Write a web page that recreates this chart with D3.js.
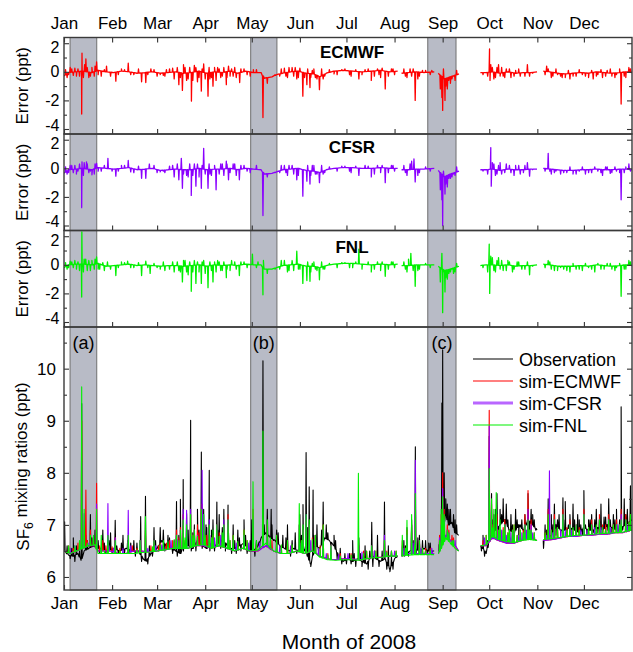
<!DOCTYPE html>
<html>
<head>
<meta charset="utf-8">
<script src="https://cdn.jsdelivr.net/npm/d3@7"></script>
<style>
  body { margin: 0; background: #fff; }
  svg { display: block; font-family: "Liberation Sans", Arial, sans-serif; }
</style>
</head>
<body>
<div id="chart"></div>
<script>
// ---- data (day of year 2008, value) ----
// continuous stretches of data, gaps in between
const segments = [[0, 215], [217.5, 238.6], [241.2, 254.5], [268.3, 304.8], [308.8, 366]];
// shaded episodes
const episodes = [["(a)", 3.9, 21.1], ["(b)", 120.3, 137.2], ["(c)", 234.4, 252.6]];

// error panels: slow baseline + short spikes (ppt)
const ecmwfErrBase = [[0,-0.3],[3,-0.05],[8,0],[12,0.05],[18,-0.05],[22,0.1],[27,0],[32,-0.05],[37,0.05],[42,0],[47,-0.1],[52,-0.05],[57,0],[62,-0.1],[67,-0.05],[72,0],[77,-0.1],[82,-0.05],[87,0.05],[92,-0.1],[97,0],[102,-0.05],[107,0.05],[112,-0.1],[117,0.05],[122,-0.05],[127,-0.05],[129,-0.45],[134,-0.35],[137,-0.2],[141,-0.1],[146,0],[151,0.05],[156,-0.1],[161,-0.15],[165,-0.35],[169,-0.1],[174,0.05],[180,0.1],[186,0.05],[192,0],[198,0.05],[204,0.1],[210,0],[215,0.05],[217.5,-0.1],[222,-0.05],[227,0],[232,-0.05],[238.6,0],[241.2,-0.1],[245,-0.5],[249,-0.35],[254.5,-0.15],[268.3,-0.05],[272,-0.05],[276,0],[281,-0.1],[286,0],[291,-0.1],[296,-0.05],[301,-0.05],[304.8,0],[308.8,0.05],[313,0],[318,-0.1],[323,-0.15],[328,-0.1],[333,-0.05],[338,-0.1],[343,0],[348,-0.05],[353,-0.1],[358,-0.05],[362,0],[366,-0.05]];
const ecmwfErrSpikes = [[2,-0.4],[5,0.2],[8,-0.3],[11.4,-2.95],[11.6,1.3],[14.1,0.9],[16,-0.4],[18,0.3],[21,0.7],[24,-0.3],[27.4,0.4],[30,-0.3],[33.4,-0.65],[37,0.2],[41.4,0.6],[45,-0.2],[50,-0.7],[52.7,-0.75],[56,0.2],[60,-0.3],[64,-0.25],[68,0.2],[71,-0.5],[74,-0.9],[76.3,-1.3],[77,0.5],[79,-0.6],[82.1,-2.05],[84,0.45],[86,-0.7],[88.5,-1.35],[90,0.55],[92.8,-1.7],[94,-0.5],[96,-1.0],[99,0.3],[101,-0.4],[104.6,-0.9],[106,0.4],[109,-0.3],[113.2,-0.75],[116,0.2],[120,-0.3],[124,0.15],[128.2,-3.2],[131,-0.8],[136,-0.2],[140,0.2],[143,-0.3],[147,0.3],[150,-0.5],[152,0.25],[153.9,-1.7],[155,-0.4],[156.5,-0.9],[158.5,-1.1],[160,0.1],[162,-0.4],[164.6,-1.25],[167,-0.5],[171,0.15],[176,-0.2],[181,0.2],[185,-0.3],[190,-0.5],[194,0.15],[198,-0.6],[202,0.2],[204,-0.4],[207,-1.2],[211,0.2],[213,-0.2],[220,-0.3],[223,0.2],[226.3,-2.0],[229,-0.3],[233,0.1],[236,-0.2],[242.5,-1.2],[243.5,-1.8],[244,-2.7],[244.5,0.2],[245.5,-2.0],[247,-1.2],[249,-0.8],[251,-0.3],[253,0.1],[270,-0.2],[274.2,1.6],[274.5,-0.6],[276,0.3],[278,-0.4],[280,0.5],[283,-0.3],[285,0.2],[288,-0.4],[291,0.1],[294,-0.3],[298.6,0.5],[300,-0.3],[302,-0.1],[311,0.4],[315,-0.3],[318,-0.2],[321,-0.4],[326,-0.5],[330,-0.3],[334,-0.2],[338,-0.4],[341,-0.5],[344,-0.2],[347,-0.4],[350,0.1],[353,-0.3],[356,-0.2],[359,-2.25],[361,-0.3],[364,0.3]];
// small wiggles on top of the baseline
const ecmwfErrNoise = [[1,0.15],[3,-0.2],[4,0.3],[6,-0.25],[7,0.25],[9,0.2],[10,-0.3],[12.5,-0.4],[13.3,0.5],[15,0.3],[17,-0.3],[19.5,-0.3],[20,0.4],[22,-0.2],[26,0.15],[35,-0.2],[39,0.15],[43,-0.2],[48,0.2],[54,-0.2],[58,0.15],[62,-0.2],[65,-0.3],[66,0.15],[70,0.25],[73,0.3],[75,-0.4],[78,0.3],[80,-0.5],[81,0.3],[83,-0.6],[85,0.3],[87,-0.4],[89,0.2],[91,-0.5],[93.5,0.3],[95,-0.4],[97,0.3],[98,-0.6],[100,0.2],[102,-0.3],[103,0.3],[105,-0.4],[107,-0.3],[108,0.2],[110,0.3],[111,-0.4],[114,0.2],[118,-0.2],[122,0.15],[139,-0.3],[142,0.25],[144,-0.4],[145,0.3],[148,-0.3],[149,0.3],[151,-0.4],[157,0.2],[159,-0.4],[161,0.2],[163,-0.5],[166,0.2],[168,-0.3],[174,-0.15],[179,0.15],[184,-0.2],[188,0.15],[192,-0.2],[196,0.2],[200,-0.3],[203,-0.2],[205,0.25],[209,-0.3],[212,0.2],[219,0.2],[221,-0.4],[224,-0.3],[225,0.2],[228,-0.5],[231,0.1],[237,0.1],[246,-1.0],[248,-0.6],[250,-0.5],[252,-0.6],[273,-0.3],[275,0.5],[277,-0.5],[279,0.3],[281,-0.3],[282,0.3],[284,-0.4],[287,0.2],[290,-0.3],[293,0.2],[297,-0.3],[310,-0.2],[312,0.2],[314,-0.4],[317,0.2],[320,-0.3],[323,-0.4],[325,0.1],[328,-0.3],[332,0.15],[336,-0.3],[340,0.1],[343,-0.3],[346,0.15],[349,-0.3],[352,0.2],[355,-0.4],[358,0.2],[362,-0.4],[365,0.2]];

const cfsrErrBase = [[0,-0.35],[3,-0.1],[8,-0.05],[12,0],[18,-0.1],[22,0.05],[27,0],[32,-0.05],[37,0],[42,0.05],[47,-0.1],[52,-0.05],[57,0],[62,-0.15],[67,-0.1],[72,-0.05],[77,-0.1],[82,-0.1],[87,0],[92,-0.1],[97,-0.05],[102,-0.05],[107,0],[112,-0.1],[117,0],[122,-0.05],[127,-0.1],[129,-0.4],[134,-0.35],[137,-0.25],[141,-0.1],[146,-0.05],[151,0],[156,-0.15],[161,-0.2],[165,-0.3],[169,-0.1],[174,0],[180,0.05],[186,0.05],[192,0],[198,0],[204,0.05],[210,0],[215,0],[217.5,-0.1],[222,-0.1],[227,-0.05],[232,-0.05],[238.6,0],[241.2,-0.15],[245,-0.6],[249,-0.4],[254.5,-0.2],[268.3,-0.1],[272,-0.1],[276,-0.05],[281,-0.15],[286,-0.05],[291,-0.1],[296,-0.1],[301,-0.05],[304.8,-0.05],[308.8,0],[313,-0.05],[318,-0.1],[323,-0.15],[328,-0.15],[333,-0.1],[338,-0.1],[343,-0.05],[348,-0.1],[353,-0.1],[358,-0.05],[362,-0.05],[366,-0.1]];
const cfsrErrSpikes = [[2,-0.4],[5,0.2],[8,-0.4],[11.4,-2.75],[11.6,0.45],[13,0.4],[14.5,0.45],[16,-0.3],[18,-0.45],[21,0.35],[24,-0.2],[28.3,0.7],[31,-0.2],[33.4,-0.55],[37,0.2],[41.4,0.55],[45,-0.3],[50,-0.7],[52.7,-0.7],[55,0.3],[60,-0.3],[64,-0.2],[68,0.15],[71,-0.6],[74,-0.8],[75.6,0.7],[76.3,-1.4],[79,-0.5],[82,-1.9],[84,0.3],[85,-1.25],[88.5,-1.4],[90,1.4],[92.8,-1.4],[94,-0.4],[98,-1.5],[101,0.3],[104.6,0.5],[106,-0.8],[109,0.3],[113,-0.8],[116,0.2],[120,-0.3],[124,0.2],[128.2,-3.3],[131,-0.6],[136,-0.3],[140,0.2],[143,-0.3],[147,0.2],[150,-0.8],[153.9,-1.95],[156.5,-0.9],[158.5,-1.1],[160,0.2],[162,-0.4],[164.6,-1.0],[167,-0.4],[171,0.1],[176,-0.2],[181,0.15],[185,-0.3],[190,-0.5],[194,0.2],[198,-0.6],[202,0.2],[204,-0.3],[207,-1.0],[211,0.2],[213,-0.2],[220,-0.3],[224,0.5],[225.5,0.65],[226.3,-0.95],[229,-0.3],[233,0.1],[236,-0.2],[242.5,-1.5],[243.5,-2.2],[244,-4.0],[244.5,-0.2],[245.5,-1.8],[247,-1.3],[249,-0.7],[251,-0.4],[253,0.1],[270,-0.2],[275,1.45],[275.3,-1.25],[277,0.3],[279,-0.4],[281,0.4],[284,-0.3],[287,0.2],[290,-0.5],[293,0.2],[296,-0.3],[298.6,0.4],[300,-0.55],[302,-0.1],[312,1.05],[313,-0.2],[316,-0.3],[320,-0.4],[324,-0.3],[328,-0.4],[332,-0.2],[336,-0.4],[340,-0.3],[344,-0.2],[347,-0.5],[350,0.1],[353,-0.3],[356,-0.2],[359,-2.2],[361,-0.3],[364,0.3]];
const cfsrErrNoise = [[1,0.1],[3,-0.3],[4,0.2],[6,-0.3],[7,0.2],[9,-0.2],[10,0.3],[12.5,-0.5],[15,0.3],[17,-0.2],[19.5,-0.4],[20,0.3],[22,-0.2],[26,0.2],[35,-0.2],[39,0.2],[43,-0.25],[48,0.15],[58,0.2],[62,-0.25],[65,-0.3],[70,0.2],[73,0.3],[77,-0.4],[80,-0.6],[81,0.3],[83,-0.5],[86,0.3],[87,-0.6],[89,0.2],[91,-0.4],[93.5,0.3],[95,-0.5],[97,0.2],[100,-0.4],[102,0.3],[103,-0.5],[105,0.3],[107,-0.3],[110,0.3],[111,-0.5],[114,0.2],[118,-0.2],[139,-0.3],[142,0.2],[144,-0.5],[145,0.2],[148,-0.4],[151,-0.5],[157,0.2],[159,-0.5],[161,0.2],[163,-0.4],[166,0.2],[168,-0.3],[179,0.15],[184,-0.2],[188,0.15],[196,0.15],[200,-0.4],[205,0.2],[209,-0.3],[212,0.2],[219,0.2],[221,-0.5],[223,0.3],[228,-0.5],[246,-1.1],[248,-0.7],[250,-0.6],[252,-0.5],[273,-0.4],[276,0.4],[278,-0.5],[280,0.2],[282,-0.4],[285,0.3],[288,-0.3],[291,0.2],[294,-0.4],[297,0.2],[310,-0.2],[314,-0.4],[317,-0.2],[322,-0.3],[326,0.1],[330,-0.4],[334,0.1],[338,-0.3],[342,0.1],[346,-0.3],[349,0.1],[352,-0.35],[355,0.1],[358,-0.3],[362,0.1],[365,-0.2]];

const fnlErrBase = [[0,-0.2],[3,0],[8,0.05],[12,0.05],[18,0],[22,0.1],[27,-0.1],[32,-0.05],[37,0],[42,0.05],[47,-0.05],[52,0],[57,-0.05],[62,-0.1],[67,-0.05],[72,-0.05],[77,-0.1],[82,-0.05],[87,0],[92,-0.1],[97,0],[102,-0.05],[107,0],[112,-0.05],[117,0.05],[122,0],[127,0],[129,-0.3],[134,-0.3],[137,-0.2],[141,-0.05],[146,0],[151,0.05],[156,-0.1],[161,-0.1],[165,-0.2],[169,-0.05],[174,0.05],[180,0.1],[186,0.1],[192,0.05],[198,0],[204,0.05],[210,0],[215,0.05],[217.5,-0.05],[222,-0.05],[227,0],[232,0],[238.6,0],[241.2,-0.1],[245,-0.4],[249,-0.3],[254.5,-0.1],[268.3,-0.05],[272,0],[276,0],[281,-0.05],[286,0],[291,-0.1],[296,-0.05],[301,-0.05],[304.8,0],[308.8,0.05],[313,0],[318,-0.1],[323,-0.1],[328,-0.1],[333,-0.05],[338,-0.1],[343,0],[348,-0.05],[353,-0.1],[358,-0.05],[362,0],[366,-0.05]];
const fnlErrSpikes = [[2,-0.3],[5,0.2],[8,-0.3],[11.4,-2.25],[11.5,2.3],[13,0.4],[15,-0.4],[18,0.3],[21,0.55],[23,-0.3],[26,-0.4],[28,0.2],[30,-0.3],[33.4,-0.75],[37,0.2],[41,0.25],[45,-0.2],[50,-0.75],[52.7,0.25],[55.5,-0.6],[60,-0.2],[64,0.2],[68,-0.3],[71,-0.5],[74,-0.4],[76.3,-1.2],[77,0.3],[79,-0.5],[82,-1.85],[84,0.3],[85,-1.3],[88.5,-1.3],[90,0.3],[92.8,-1.6],[96,-1.2],[99,0.3],[101,-0.4],[104.6,-0.9],[108,0.3],[113,-0.75],[116,0.2],[121.4,0.75],[124,-0.2],[128.2,-2.1],[128.5,0.3],[131,-0.6],[136,-0.3],[140,0.3],[145,-0.4],[150,0.95],[152,-0.3],[153.9,-1.3],[156.5,-1.1],[158.5,-1.15],[160,0.1],[162,-0.3],[164.6,-1.05],[167,-0.3],[171,0.1],[176,-0.2],[181,0.15],[186,-0.2],[190,1.1],[192,-0.3],[198,-0.5],[202,0.2],[204,-0.4],[207,-0.8],[211,0.2],[213,-0.2],[220,-0.3],[223.5,0.8],[225,-0.4],[226.3,-1.5],[229,-0.3],[233,0.1],[236,-0.2],[242.5,-1.2],[243.5,0.8],[244,-3.35],[244.5,-0.5],[245.5,-1.9],[247,-1.0],[249,-0.5],[251,-0.6],[253,0.1],[270,-0.2],[274,1.45],[274.3,-2.0],[276,0.5],[278,-0.5],[280,0.5],[283,-0.4],[286,0.3],[289,-0.5],[292,0.2],[295,-0.3],[298.6,0.2],[300,-0.7],[302,-0.1],[312,0.3],[314,-0.3],[318,-0.4],[322,-0.3],[326,-0.5],[330,-0.3],[334,-0.4],[338,-0.2],[342,-0.5],[346,-0.3],[350,0.1],[353,-0.3],[356,-0.2],[359,-2.2],[361,-0.3],[364,0.3]];
const fnlErrNoise = [[1,0.15],[3,-0.2],[4,0.25],[6,-0.2],[7,0.3],[9,0.2],[10,-0.4],[12.5,-0.5],[14,0.4],[16,0.3],[17,-0.4],[19.5,-0.3],[20,0.4],[22,-0.3],[25,0.15],[35,-0.2],[39,0.15],[43,-0.2],[48,0.15],[54,-0.2],[58,0.1],[62,-0.3],[65,-0.4],[70,0.2],[73,0.2],[75,-0.5],[78,0.3],[80,-0.7],[81,0.2],[83,-0.5],[86,0.2],[87,-0.5],[89,0.2],[91,-0.6],[94,0.2],[95,-0.4],[97,0.2],[98,-0.5],[100,0.2],[102,-0.4],[103,0.2],[105,-0.3],[107,-0.4],[110,0.2],[111,-0.3],[114,0.2],[118,-0.2],[125,0.2],[139,-0.3],[142,0.3],[144,-0.5],[147,0.3],[148,-0.4],[151,-0.3],[157,0.2],[159,-0.5],[161,0.2],[163,-0.4],[166,0.2],[168,-0.3],[179,0.15],[184,-0.2],[188,0.2],[196,0.2],[200,-0.3],[205,0.2],[209,-0.3],[212,0.2],[219,0.2],[221,-0.5],[222,0.4],[228,-0.4],[246,-0.9],[248,-0.6],[250,-0.3],[252,-0.5],[273,-0.5],[275,0.6],[277,-0.4],[279,0.3],[281,-0.3],[282,0.3],[285,-0.4],[287,0.2],[290,-0.3],[293,0.2],[297,-0.3],[310,-0.2],[313,0.2],[316,-0.4],[320,-0.2],[324,-0.4],[328,0.1],[332,-0.3],[336,0.1],[340,-0.3],[344,0.1],[348,-0.3],[352,0.1],[355,-0.4],[358,0.1],[362,-0.3],[365,0.2]];

// mixing ratio panel (ppt)
const obsBase = [[0,6.5],[3,6.42],[6,6.4],[9,6.45],[11,6.32],[13,6.5],[16,6.55],[19,6.6],[21.5,6.55],[24,6.55],[28,6.5],[32,6.55],[36,6.5],[40,6.55],[44,6.5],[48,6.5],[51,6.35],[53,6.3],[56,6.45],[60,6.55],[63,6.7],[66,6.6],[69,6.55],[72,6.5],[75,6.45],[78,6.65],[80,6.6],[83,6.55],[86,6.7],[89,6.6],[92,6.55],[95,6.65],[98,6.6],[101,6.7],[104,6.65],[107,6.55],[110,6.55],[113,6.6],[116,6.65],[119,6.5],[122,6.5],[125,6.6],[127,6.75],[130,6.85],[133,6.75],[136,6.7],[139,6.6],[142,6.55],[145,6.5],[148,6.55],[151,6.5],[154,6.6],[157,6.4],[159,6.25],[162,6.6],[165,6.55],[168,6.75],[171,6.7],[174,6.6],[177,6.4],[180,6.3],[183,6.35],[186,6.3],[189,6.35],[192,6.3],[195,6.25],[198,6.4],[201,6.35],[204,6.3],[207,6.35],[210,6.15],[213,6.35],[215,6.4],[217.5,6.4],[220,6.45],[223,6.5],[226,6.55],[229,6.5],[232,6.55],[235,6.5],[238.5,6.5],[241.3,6.5],[243,6.8],[246,7.2],[248,7.0],[250,7.05],[252,6.85],[254.3,6.8],[268.5,6.6],[270,6.55],[272,6.45],[275,6.8],[278,6.9],[281,7.0],[284,7.1],[287,6.9],[290,6.85],[293,7.0],[296,6.9],[299,7.1],[302,7.0],[304.8,6.9],[308.8,6.7],[311,6.75],[314,6.8],[317,7.0],[320,6.9],[323,6.9],[326,6.95],[329,6.9],[332,6.85],[335,6.95],[338,6.9],[341,6.9],[344,6.95],[347,6.9],[350,7.0],[353,6.95],[356,6.9],[359,6.95],[362,7.0],[366,7.1]];
const obsSpikes = [[0.4,7.06],[6,6.75],[11.4,9.33],[14,6.8],[17,7.2],[20,6.9],[25,6.9],[30,6.85],[33,7.09],[38,6.8],[45,6.7],[49.4,7.16],[52.5,7.55],[58,6.95],[62,6.95],[67,6.8],[72.5,7.45],[75,7.49],[76.8,7.87],[79,7.22],[81.6,9.01],[84,7.0],[86,7.3],[88.5,8.4],[90,7.3],[91.5,7.0],[93.6,8.05],[96,7.1],[98.5,7.44],[100,7.2],[103,7.3],[105.7,7.38],[109,7.0],[112,6.9],[116,7.1],[121,7.1],[128.2,10.15],[131,7.3],[133.5,7.3],[137,6.9],[141,6.8],[144,7.0],[149,6.85],[152,7.2],[154,7.39],[156,8.39],[158,7.73],[160.5,7.67],[163,7.0],[167,7.44],[169,7.0],[174,6.8],[186,6.7],[190,6.75],[194,6.6],[198.3,7.05],[202,6.8],[206.5,7.44],[209,6.6],[215,6.5],[219,6.7],[221,6.95],[224,7.1],[226.4,8.5],[229,6.8],[233,6.7],[236,6.65],[243.5,9.34],[244,10.36],[245,8.0],[247,7.4],[249,7.3],[252,7.1],[270,6.8],[274,8.7],[275.5,7.6],[277,7.2],[279,7.6],[281,7.3],[283,7.5],[285,7.4],[288,7.2],[291,7.3],[294,7.0],[297,7.2],[299,7.6],[301,7.3],[303,7.1],[310,7.0],[312,7.5],[314,7.2],[316,7.4],[318,7.1],[321.5,7.52],[323,7.45],[326,7.2],[328,7.4],[331,7.2],[333,7.0],[335,7.66],[338,7.1],[340,7.2],[343,7.3],[346,7.4],[349,7.15],[351,7.5],[354,7.2],[356,7.3],[359,9.27],[361,7.5],[363,7.3],[365,7.75]];
const obsNoise = [[2,6.6],[4,6.35],[5,6.55],[7,6.3],[8,6.6],[10,6.5],[15,6.7],[18,6.75],[22,6.7],[23,6.45],[26,6.65],[27,6.45],[29,6.7],[31,6.45],[34,6.6],[35,6.45],[37,6.65],[39,6.45],[41,6.7],[42,6.45],[43,6.65],[46,6.4],[47,6.65],[50,6.3],[54,6.25],[55,6.6],[57,6.4],[59,6.7],[61,6.5],[64,6.9],[65,6.5],[68,6.75],[70,6.45],[71,6.7],[73,6.4],[74,6.8],[77,6.5],[80,6.9],[82,6.5],[83,6.85],[85,6.5],[87,6.9],[89,6.55],[92,6.95],[94,6.5],[95,6.9],[97,6.5],[99,6.9],[101,6.55],[102,6.95],[104,6.5],[106,6.85],[108,6.45],[110,6.7],[111,6.45],[113,6.75],[114,6.5],[117,6.8],[118,6.45],[120,6.7],[123,6.4],[124,6.7],[126,6.55],[129,7.0],[132,6.8],[134,7.0],[135,6.7],[138,6.85],[140,6.5],[143,6.75],[146,6.4],[147,6.7],[150,6.45],[153,6.8],[155,6.5],[157,6.95],[159,6.2],[161,6.8],[164,6.5],[166,6.9],[170,6.85],[172,6.6],[175,6.7],[176,6.35],[178,6.55],[179,6.25],[181,6.45],[182,6.25],[184,6.45],[185,6.25],[187,6.45],[188,6.2],[191,6.45],[192,6.2],[193,6.4],[196,6.15],[197,6.5],[199,6.2],[200,6.5],[203,6.2],[205,6.5],[208,6.15],[210,6.1],[211,6.4],[212,6.15],[214,6.45],[219.5,6.4],[220,6.6],[222,6.4],[225,6.7],[227,6.45],[228,6.75],[230,6.45],[231,6.7],[234,6.45],[235,6.65],[237,6.45],[242,6.6],[246,7.5],[248,7.3],[251,7.2],[253,7.0],[269,6.5],[271,6.4],[273,6.7],[276,7.1],[278,7.3],[280,6.8],[282,7.2],[284,6.8],[286,7.1],[287,6.75],[289,7.0],[290,6.7],[292,7.1],[293,6.8],[295,7.1],[296,6.75],[298,7.0],[300,6.9],[302,7.2],[304,6.9],[309,6.55],[311,6.9],[313,6.75],[315,7.0],[317,6.8],[319,7.2],[320,6.8],[322,7.1],[324,6.8],[325,7.0],[327,6.8],[329,7.1],[330,6.8],[332,7.1],[334,6.8],[336,7.0],[337,6.8],[339,7.1],[341,6.85],[342,7.1],[344,6.85],[345,7.1],[347,6.85],[348,7.15],[350,6.9],[352,7.1],[353,6.85],[355,7.1],[357,6.85],[358,7.1],[360,6.9],[362,7.2],[364,6.95]];

const simBase = [[0,6.5],[4,6.45],[8,6.5],[12,6.55],[16,6.6],[20,6.6],[22,6.5],[26,6.5],[30,6.5],[35,6.45],[40,6.45],[45,6.5],[50,6.5],[55,6.48],[60,6.5],[65,6.52],[70,6.55],[75,6.55],[80,6.55],[85,6.6],[90,6.6],[95,6.55],[100,6.6],[105,6.55],[110,6.5],[115,6.55],[120,6.5],[125,6.5],[130,6.6],[135,6.5],[140,6.45],[145,6.45],[150,6.5],[155,6.45],[160,6.5],[165,6.4],[170,6.35],[175,6.33],[180,6.35],[185,6.35],[190,6.33],[195,6.35],[200,6.38],[205,6.38],[210,6.4],[215,6.4],[217.5,6.4],[222,6.45],[227,6.45],[232,6.45],[238.5,6.45],[241.3,6.45],[243,6.6],[246,6.8],[249,6.7],[252,6.6],[254.3,6.5],[268.5,6.6],[272,6.6],[276,6.75],[280,6.7],[285,6.65],[290,6.65],[295,6.7],[300,6.75],[304.8,6.7],[308.8,6.7],[315,6.72],[320,6.75],[325,6.78],[330,6.78],[335,6.8],[340,6.8],[345,6.82],[350,6.82],[355,6.85],[360,6.85],[366,6.9]];
const fnlBase = [[0,6.5],[4,6.45],[8,6.5],[12,6.55],[16,6.6],[20,6.62],[22,6.45],[26,6.45],[30,6.45],[35,6.45],[40,6.45],[45,6.45],[50,6.47],[55,6.48],[60,6.5],[65,6.52],[70,6.55],[75,6.55],[80,6.55],[85,6.6],[90,6.62],[95,6.55],[100,6.6],[105,6.55],[110,6.5],[115,6.55],[120,6.5],[125,6.52],[130,6.65],[135,6.5],[140,6.45],[145,6.45],[150,6.5],[155,6.45],[160,6.5],[165,6.38],[170,6.33],[175,6.32],[180,6.33],[185,6.33],[190,6.32],[195,6.35],[200,6.37],[205,6.38],[210,6.4],[215,6.4],[217.5,6.4],[222,6.42],[227,6.43],[232,6.43],[238.5,6.43],[241.3,6.45],[243,6.55],[246,6.75],[249,6.65],[252,6.55],[254.3,6.5],[268.5,6.6],[272,6.62],[276,6.78],[280,6.72],[285,6.68],[290,6.66],[295,6.7],[300,6.72],[304.8,6.7],[308.8,6.72],[315,6.74],[320,6.76],[325,6.78],[330,6.8],[335,6.8],[340,6.82],[345,6.83],[350,6.84],[355,6.85],[360,6.86],[366,6.9]];
const ecmwfSpikes = [[11.4,9.0],[14.1,7.67],[17,6.9],[21,7.8],[25,6.7],[28.3,6.8],[33,6.75],[41.4,6.8],[49,6.7],[52.5,6.9],[58,6.7],[62,6.65],[68,6.7],[72.5,6.9],[75,6.95],[76.8,7.2],[81.6,7.2],[84,6.9],[86,7.0],[88.5,7.3],[89,7.4],[93.6,7.0],[96,6.8],[98.5,7.0],[103,7.0],[105.7,7.2],[109,6.8],[116,6.9],[121.8,7.3],[128.2,7.1],[131,7.0],[137,6.8],[144,6.7],[151.6,7.0],[154,6.9],[156,7.1],[158,7.0],[162,6.8],[167,7.0],[172,6.6],[190,6.6],[195,6.5],[198.3,6.6],[206.5,6.7],[211,6.5],[218,6.7],[221,6.9],[224,7.0],[226.4,7.6],[229,6.7],[233,6.55],[243,7.2],[244,8.0],[245,7.3],[247,7.0],[250,6.8],[270,6.7],[274,9.2],[275.5,7.4],[277,7.0],[279,7.2],[281,6.9],[284,7.1],[287,6.9],[290,7.0],[294,6.9],[297,7.2],[299,7.66],[301,7.1],[312,7.3],[316,7.2],[321.5,7.3],[326,7.1],[330,7.0],[335,7.3],[340,7.1],[345,7.2],[349,7.0],[351,7.2],[356,7.1],[359,7.3],[362,7.2],[365,7.2]];
const ecmwfNoise = [[3,6.6],[6,6.55],[9,6.65],[15,6.7],[19,6.75],[23,6.6],[27,6.6],[31,6.58],[36,6.55],[44,6.6],[47,6.55],[56,6.6],[61,6.6],[66,6.65],[70,6.7],[74,6.75],[78,6.7],[83,6.8],[87,6.85],[92,6.8],[95,6.75],[100,6.85],[102,6.75],[107,6.7],[112,6.65],[118,6.7],[124,6.65],[134,6.7],[140,6.6],[147,6.6],[153,6.7],[160,6.75],[165,6.6],[170,6.45],[178,6.45],[185,6.45],[193,6.5],[201,6.5],[208,6.5],[214,6.5],[220,6.55],[226,6.6],[231,6.55],[236,6.55],[242,6.8],[248,6.9],[251,6.75],[272,6.8],[276,7.0],[280,6.85],[283,6.95],[286,6.85],[289,6.9],[292,6.8],[296,6.9],[300,6.9],[303,6.85],[310,6.85],[314,6.9],[318,6.95],[324,6.95],[328,6.9],[332,6.95],[338,6.95],[343,6.95],[347,7.0],[354,7.0],[358,7.0],[364,7.05]];
const cfsrSpikes = [[11.4,8.2],[13,7.22],[17,6.8],[21,7.4],[28.3,7.41],[33,6.75],[41.4,7.28],[49,6.7],[52.5,6.8],[58,6.7],[64,6.65],[72.5,6.8],[75,6.9],[76.8,7.3],[79,7.28],[81.6,7.3],[84,6.9],[89,8.05],[90,7.2],[93.6,7.1],[98.5,7.0],[103,7.1],[105.7,7.1],[109,6.7],[116,6.8],[121.8,7.1],[128.2,7.0],[131,6.9],[137,6.7],[151.6,7.0],[154,6.9],[156,7.2],[158,7.0],[162,6.7],[167,6.9],[172,6.6],[190,6.6],[198.3,6.6],[206.5,6.8],[211,6.5],[218,6.6],[221,6.8],[224,7.0],[226.4,8.24],[229,6.7],[233,6.5],[243,7.0],[244,7.7],[245,7.1],[247,6.9],[250,6.7],[270,6.6],[274,8.9],[275.5,7.3],[277,6.9],[279,7.0],[281,6.8],[284,7.0],[287,6.8],[290,6.9],[294,6.8],[297,7.0],[299,7.3],[301,7.0],[312.8,8.04],[316,7.1],[321.5,7.2],[326,7.0],[330,7.0],[335,7.2],[340,7.0],[345,7.1],[349,6.9],[351,7.1],[356,7.0],[359,7.2],[362,7.1],[365,7.1]];
const cfsrNoise = [[4,6.55],[7,6.6],[16,6.65],[24,6.55],[29,6.6],[32,6.55],[38,6.55],[43,6.6],[54,6.55],[59,6.6],[63,6.62],[69,6.7],[73,6.72],[77,6.7],[82,6.78],[86,6.8],[91,6.75],[94,6.8],[97,6.75],[101,6.8],[106,6.7],[111,6.65],[119,6.65],[126,6.65],[133,6.7],[139,6.6],[146,6.6],[152,6.65],[159,6.7],[164,6.55],[169,6.45],[177,6.43],[183,6.45],[192,6.48],[200,6.5],[207,6.5],[213,6.5],[219,6.55],[225,6.65],[230,6.55],[237,6.55],[242,6.75],[248,6.85],[252,6.7],[271,6.75],[276,6.9],[279,6.85],[282,6.9],[285,6.8],[288,6.85],[293,6.8],[295,6.85],[298,6.9],[302,6.85],[311,6.8],[315,6.85],[320,6.9],[323,6.9],[327,6.9],[333,6.9],[337,6.9],[342,6.95],[346,6.95],[352,6.95],[357,7.0],[363,7.0]];
const fnlSpikes = [[11.4,9.65],[13,7.3],[17,6.8],[21,7.3],[24,6.8],[28.3,6.8],[33,6.7],[41.4,6.8],[49,6.7],[52.5,7.16],[58,6.7],[64,6.7],[72.5,6.8],[75,6.9],[76.8,7.1],[79,7.0],[81.6,7.2],[84,6.9],[88.5,7.3],[90,7.2],[93.6,7.0],[96,6.9],[98.5,7.0],[103,7.0],[105.7,7.1],[109,6.8],[116,6.9],[121.8,7.83],[128.2,8.8],[131,7.1],[137,6.8],[144,6.7],[151.6,7.41],[154,7.0],[156,7.2],[158,7.1],[162,6.8],[167,7.0],[172,6.6],[189.7,7.99],[195,6.5],[198.3,6.6],[206.5,6.7],[211,6.5],[218,6.8],[221,7.09],[224,7.2],[226.4,7.6],[229,6.7],[233,6.5],[243,7.3],[244,7.54],[245,7.2],[247,6.9],[250,6.7],[270,6.6],[274,8.08],[275.5,7.5],[277,7.3],[278.5,7.62],[281,7.1],[284,7.0],[287,6.9],[290,7.0],[294,6.9],[297,7.0],[299,7.1],[301,6.9],[312,7.2],[316,7.1],[321.5,7.2],[326,7.0],[330,7.0],[335,7.2],[340,7.0],[345,7.1],[349,6.9],[351,7.1],[356,7.0],[359,7.1],[362,7.1],[365,7.2]];
const fnlNoise = [[3,6.6],[7,6.6],[10,6.7],[15,6.65],[19,6.8],[26,6.5],[36,6.5],[47,6.52],[57,6.58],[62,6.62],[67,6.68],[71,6.72],[74,6.7],[78,6.75],[83,6.8],[86,6.78],[91,6.8],[95,6.75],[100,6.78],[102,6.85],[107,6.7],[112,6.68],[118,6.7],[124,6.7],[133,6.75],[140,6.62],[147,6.62],[153,6.7],[160,6.72],[165,6.55],[170,6.42],[178,6.4],[185,6.42],[193,6.45],[201,6.5],[208,6.48],[214,6.5],[220,6.55],[226,6.62],[231,6.55],[236,6.52],[242,6.7],[248,6.85],[251,6.7],[272,6.8],[276,6.95],[280,6.9],[283,6.9],[286,6.85],[289,6.9],[292,6.8],[296,6.85],[300,6.9],[303,6.85],[310,6.85],[314,6.9],[318,6.95],[324,6.9],[328,6.95],[332,6.9],[338,6.95],[343,7.0],[347,6.95],[354,7.0],[358,7.0],[364,7.05]];

const errTicks = [-4, -2, 0, 2];
const errMinor = [-3, -1, 1];
const sfTicks = [6, 7, 8, 9, 10];
const sfMinor = [6.5, 7.5, 8.5, 9.5, 10.5];
const legendNames = ["Observation", "sim-ECMWF", "sim-CFSR", "sim-FNL"];

// ---- layout ----
const width = 633, height = 652;
const left = 64, right = 632;
const t0 = new Date(2008, 0, 1), t1 = new Date(2009, 0, 1);
const toDate = (d) => new Date(t0.getTime() + d * 864e5);
const colors = { obs: "#000000", ecmwf: "#ff0000", cfsr: "#8a00ff", fnl: "#00f000" };

const x = d3.scaleTime().domain([t0, t1]).range([left, right]);
const months = d3.timeMonth.range(t0, t1);

const svg = d3.select("#chart").append("svg")
  .attr("width", width).attr("height", height);

const errPanels = [
  { top: 37.5, bottom: 134, name: "ECMWF", base: ecmwfErrBase, spikes: ecmwfErrSpikes.concat(ecmwfErrNoise), color: colors.ecmwf, ty: 57.5 },
  { top: 134, bottom: 230.5, name: "CFSR", base: cfsrErrBase, spikes: cfsrErrSpikes.concat(cfsrErrNoise), color: colors.cfsr, ty: 153 },
  { top: 230.5, bottom: 327, name: "FNL", base: fnlErrBase, spikes: fnlErrSpikes.concat(fnlErrNoise), color: colors.fnl, ty: 252.5 }
];
const sfPanel = { top: 327, bottom: 590 };

// build a line of baseline knots with spikes riding on it, split at gaps
function buildPoints(base, spikes) {
  const b = d3.scaleLinear().domain(base.map(p => p[0])).range(base.map(p => p[1]));
  const pts = [];
  segments.forEach(([a, z], i) => {
    const seg = base.filter(p => p[0] >= a && p[0] <= z).map(p => p.slice());
    spikes.filter(s => s[0] > a && s[0] < z).forEach(([d, v]) => {
      seg.push([d - 0.3, b(d)], [d, v], [d + 0.3, b(d)]);
    });
    seg.sort((p, q) => p[0] - q[0]);
    if (i > 0) pts.push(null);
    seg.forEach(p => pts.push(p));
  });
  return pts;
}

// shaded episodes, behind everything
const shade = svg.append("g");
episodes.forEach(([lab, a, z]) => {
  shade.append("rect")
    .attr("x", x(toDate(a))).attr("y", errPanels[0].top)
    .attr("width", x(toDate(z)) - x(toDate(a)))
    .attr("height", sfPanel.bottom - errPanels[0].top)
    .attr("fill", "#b8bbc6").attr("stroke", "#6f6f6f").attr("stroke-width", 1);
});

// clip paths
const defs = svg.append("defs");
[...errPanels, sfPanel].forEach((p, i) => {
  defs.append("clipPath").attr("id", "clip" + i)
    .append("rect").attr("x", left).attr("y", p.top)
    .attr("width", right - left).attr("height", p.bottom - p.top);
});

function frameAxes(p, y, major, minor, showTopLabels, showBottomLabels, labelX, isErr) {
  const g = svg.append("g");
  // month ticks at bottom, pointing in
  g.append("g").attr("transform", `translate(0,${p.bottom})`)
    .call(d3.axisBottom(x).tickValues(months).tickSize(-5).tickFormat(""))
    .call(s => s.select(".domain").remove());
  if (showTopLabels) {
    g.append("g").attr("transform", `translate(0,${p.top})`)
      .call(d3.axisTop(x).tickValues(months).tickSize(-5).tickFormat(""))
      .call(s => s.select(".domain").remove());
    g.append("g").attr("transform", `translate(0,${p.top})`)
      .call(d3.axisTop(x).tickValues(months).tickSize(0).tickPadding(9).tickFormat(d3.timeFormat("%b")))
      .call(s => s.select(".domain").remove())
      .selectAll("text").attr("font-size", 17).attr("fill", "#000").attr("font-family", null);
  }
  if (showBottomLabels) {
    g.append("g").attr("transform", `translate(0,${p.bottom})`)
      .call(d3.axisBottom(x).tickValues(months).tickSize(0).tickPadding(7).tickFormat(d3.timeFormat("%b")))
      .call(s => s.select(".domain").remove())
      .selectAll("text").attr("font-size", 17).attr("fill", "#000").attr("font-family", null);
  }
  // y ticks
  const lab = g.append("g").attr("transform", `translate(${left},0)`)
    .call(d3.axisLeft(y).tickValues(major).tickSize(-5).tickPadding(left - labelX).tickFormat(d3.format("d")))
    .call(s => s.select(".domain").remove())
    .selectAll("text").attr("font-size", isErr ? 16 : 17).attr("fill", "#000").attr("font-family", null)
    .text(d => d < 0 ? "-" + Math.abs(d) : d);
  // the stacked panels put "2" right under the "-4" of the panel above: nudge apart
  if (isErr) lab.attr("dy", d => d === 2 ? "0.58em" : d === -4 ? "0.08em" : "0.32em");
  g.append("g").attr("transform", `translate(${left},0)`)
    .call(d3.axisLeft(y).tickValues(minor).tickSize(-3).tickFormat(""))
    .call(s => s.select(".domain").remove());
  g.append("g").attr("transform", `translate(${right},0)`)
    .call(d3.axisRight(y).tickValues(major).tickSize(-5).tickFormat(""))
    .call(s => s.select(".domain").remove());
  g.append("g").attr("transform", `translate(${right},0)`)
    .call(d3.axisRight(y).tickValues(minor).tickSize(-3).tickFormat(""))
    .call(s => s.select(".domain").remove());
  g.selectAll(".tick line").attr("stroke", "#333").attr("stroke-width", 1.1);
  // frame
  g.append("rect").attr("x", left).attr("y", p.top)
    .attr("width", right - left).attr("height", p.bottom - p.top)
    .attr("fill", "none").attr("stroke", "#3a3a3a").attr("stroke-width", 1.4);
}

const lineGen = (y) => d3.line()
  .defined(p => p !== null)
  .x(p => x(toDate(p[0])))
  .y(p => y(p[1]));

// error panels
errPanels.forEach((p, i) => {
  const y = d3.scaleLinear().domain([-4.35, 2.4]).range([p.bottom, p.top]);
  svg.append("path")
    .datum(buildPoints(p.base, p.spikes))
    .attr("clip-path", `url(#clip${i})`)
    .attr("fill", "none").attr("stroke", p.color).attr("stroke-width", 1.3)
    .attr("stroke-linejoin", "round")
    .attr("d", lineGen(y));
  svg.append("text").attr("x", 352).attr("y", p.ty)
    .attr("text-anchor", "middle").attr("font-size", 17).attr("font-weight", "bold")
    .text(p.name);
  frameAxes(p, y, errTicks, errMinor, i === 0, false, 59.5, true);
  svg.append("text")
    .attr("transform", `translate(28,${(p.top + p.bottom) / 2}) rotate(-90)`)
    .attr("text-anchor", "middle").attr("font-size", 17)
    .text("Error (ppt)");
});

// mixing ratio panel
const ySF = d3.scaleLinear().domain([5.75, 10.8]).range([sfPanel.bottom, sfPanel.top]);
const sfSeries = [
  { base: obsBase, spikes: obsSpikes.concat(obsNoise), color: colors.obs },
  { base: simBase, spikes: ecmwfSpikes.concat(ecmwfNoise), color: colors.ecmwf },
  { base: simBase, spikes: cfsrSpikes.concat(cfsrNoise), color: colors.cfsr },
  { base: fnlBase, spikes: fnlSpikes.concat(fnlNoise), color: colors.fnl }
];
sfSeries.forEach(s => {
  svg.append("path")
    .datum(buildPoints(s.base, s.spikes))
    .attr("clip-path", "url(#clip3)")
    .attr("fill", "none").attr("stroke", s.color).attr("stroke-width", 1.1)
    .attr("stroke-linejoin", "round")
    .attr("d", lineGen(ySF));
});
frameAxes(sfPanel, ySF, sfTicks, sfMinor, false, true, 56, false);

// episode labels
episodes.forEach(([lab, a, z]) => {
  svg.append("text").attr("x", (x(toDate(a)) + x(toDate(z))) / 2).attr("y", 349)
    .attr("text-anchor", "middle").attr("font-size", 18).text(lab);
});

// legend
const legend = svg.append("g");
legendNames.forEach((n, i) => {
  const yy = 359 + i * 22;
  legend.append("line").attr("x1", 473).attr("x2", 513).attr("y1", yy).attr("y2", yy)
    .attr("stroke", sfSeries[i].color).attr("stroke-width", i === 2 ? 3 : 1.2)
    .attr("stroke-opacity", i === 2 ? 0.6 : 1);
  legend.append("text").attr("x", 519).attr("y", yy + 6.5).attr("font-size", 18).text(n);
});

// axis titles
const sfLab = svg.append("text")
  .attr("transform", `translate(29,${(sfPanel.top + sfPanel.bottom) / 2 + 8}) rotate(-90)`)
  .attr("text-anchor", "middle").attr("font-size", 17);
sfLab.append("tspan").text("SF");
sfLab.append("tspan").attr("dy", "0.35em").attr("font-size", 12).text("6");
sfLab.append("tspan").attr("dy", "-0.35em").text(" mixing ratios (ppt)");

svg.append("text").attr("x", 349).attr("y", 649)
  .attr("text-anchor", "middle").attr("font-size", 21).text("Month of 2008");
</script>
</body>
</html>
